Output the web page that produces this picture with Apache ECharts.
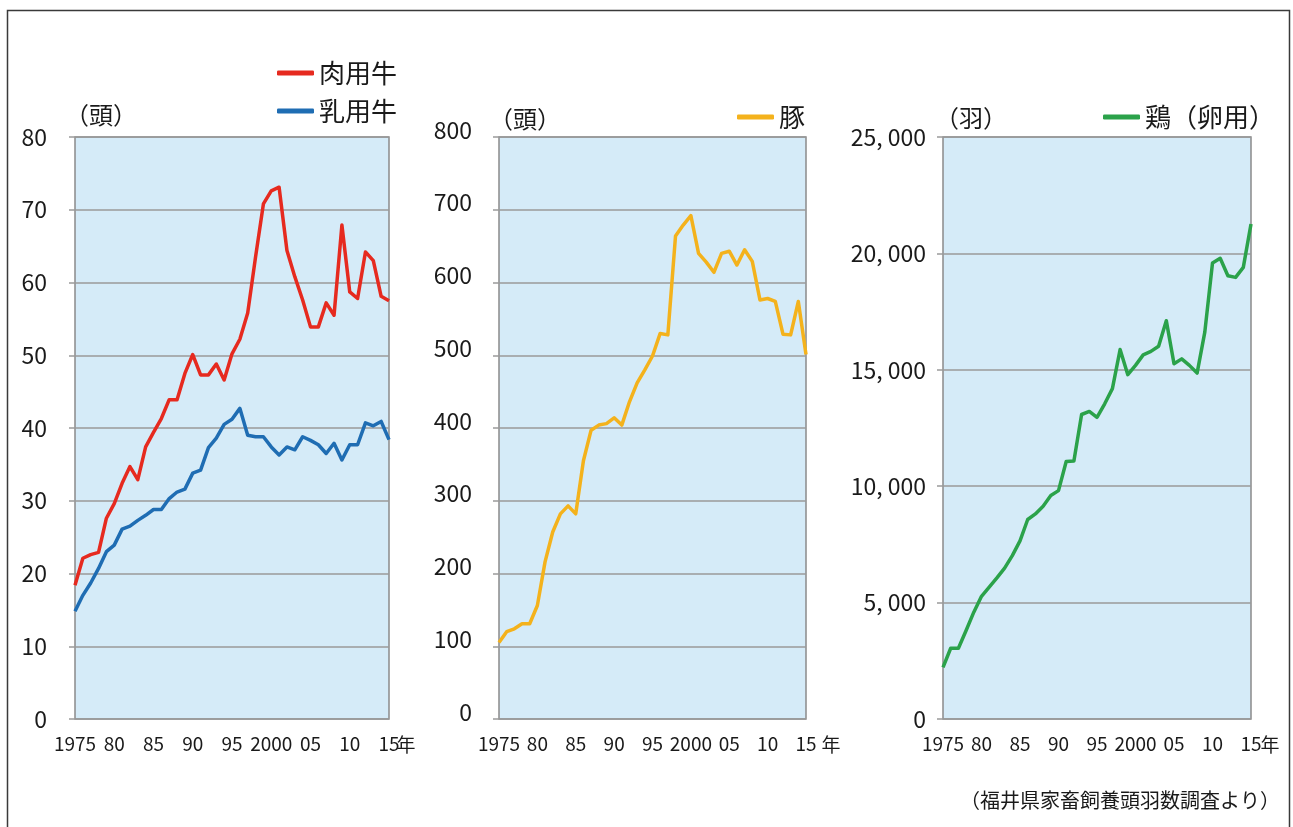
<!DOCTYPE html>
<html>
<head>
<meta charset="utf-8">
<script src="https://cdn.jsdelivr.net/npm/echarts@6/dist/echarts.min.js"></script>
<style>
  html, body { margin: 0; padding: 0; background: #ffffff; }
  #chart { width: 1293px; height: 827px; }
</style>
</head>
<body>
<div id="chart"></div>
<script>
// Survey years
const years = [
  1975, 1976, 1977, 1978, 1979, 1980, 1981, 1982, 1983, 1984,
  1985, 1986, 1987, 1988, 1989, 1990, 1991, 1992, 1993, 1994,
  1995, 1996, 1997, 1998, 1999, 2000, 2001, 2002, 2003, 2004,
  2005, 2006, 2007, 2008, 2009, 2010, 2011, 2012, 2013, 2014,
  2015
];

// 肉用牛 (頭)
const beefCattle = [
  18.4, 22.1, 22.6, 22.9, 27.6, 29.6, 32.4, 34.7, 32.9, 37.4,
  39.4, 41.3, 43.9, 43.9, 47.5, 50.1, 47.3, 47.3, 48.8, 46.6,
  50.2, 52.2, 55.8, 63.5, 70.8, 72.6, 73.1, 64.4, 60.8, 57.6,
  53.9, 53.9, 57.2, 55.5, 67.9, 58.7, 57.8, 64.2, 63.0, 58.1,
  57.5
];

// 乳用牛 (頭)
const dairyCattle = [
  14.8, 17.0, 18.7, 20.7, 23.0, 23.9, 26.1, 26.5, 27.3, 28.0,
  28.8, 28.8, 30.3, 31.2, 31.6, 33.8, 34.2, 37.3, 38.6, 40.5,
  41.2, 42.7, 39.0, 38.8, 38.8, 37.4, 36.3, 37.4, 37.0, 38.8,
  38.3, 37.7, 36.5, 37.9, 35.6, 37.7, 37.7, 40.7, 40.3, 40.9,
  38.4
];

// 豚 (頭)
const pigs = [
  105, 120, 124, 131, 131, 156, 216, 257, 282, 293,
  282, 355, 397, 404, 406, 414, 404, 436, 462, 480,
  499, 530, 528, 664, 679, 692, 640, 628, 614, 640,
  643, 624, 645, 629, 576, 578, 574, 529, 528, 574,
  501
];

// 鶏（卵用） (羽)
const layingHens = [
  2220, 3040, 3040, 3800, 4590, 5270, 5660, 6060, 6480, 7020,
  7650, 8570, 8810, 9140, 9600, 9810, 11060, 11080, 13080, 13210,
  12960, 13540, 14190, 15870, 14790, 15190, 15640, 15790, 16010, 17110,
  15260, 15470, 15190, 14860, 16620, 19590, 19790, 19040, 18970, 19400,
  21260
];

// Year tick labels
const yearTickLabels = {
  1975: '1975', 1980: '80', 1985: '85', 1990: '90', 1995: '95',
  2000: '2000', 2005: '05', 2010: '10', 2015: '15'
};

const seriesNames = ['肉用牛', '乳用牛', '豚', '鶏（卵用）'];
const seriesColors = ['#e62a1f', '#1f6db3', '#f4b21c', '#2ba24a'];

const FONT = '"Noto Sans CJK JP", "Noto Sans", sans-serif';
const TEXT = '#1a1a1a';
const GRIDLINE = '#9a9a9a';

const pairs = (vals) => years.map((y, i) => [y, vals[i]]);

const grids = [
  { left: 75, top: 137, width: 314, height: 582 },
  { left: 499, top: 137, width: 307, height: 582 },
  { left: 943, top: 137, width: 308, height: 582 }
].map(g => Object.assign(g, {
  show: true,
  backgroundColor: '#d5ebf8',
  borderColor: '#8a8a8a',
  borderWidth: 1.5,
  containLabel: false
}));

const xAxes = [0, 1, 2].map(i => ({
  type: 'value',
  gridIndex: i,
  min: 1975,
  max: 2015,
  interval: 5,
  axisLine: { show: false },
  axisTick: { show: false },
  splitLine: { show: false },
  axisLabel: {
    show: true,
    showMinLabel: true,
    showMaxLabel: true,
    margin: 15,
    color: TEXT,
    fontFamily: FONT,
    fontSize: 19,
    formatter: v => yearTickLabels[v] || ''
  }
}));

const yCommon = {
  type: 'value',
  min: 0,
  axisLine: { show: false },
  axisTick: { show: true, length: 6, lineStyle: { color: GRIDLINE, width: 1.5 } },
  splitLine: { show: true, lineStyle: { color: GRIDLINE, width: 1.5 } },
  axisLabel: { color: TEXT, fontFamily: FONT, fontSize: 23 }
};

const yAxes = [
  Object.assign({}, yCommon, { gridIndex: 0, max: 80, interval: 10,
    axisLabel: Object.assign({}, yCommon.axisLabel, { margin: 28 }) }),
  // the 豚 panel's labels sit a little above their gridlines
  Object.assign({}, yCommon, { gridIndex: 1, max: 800, interval: 100,
    axisLabel: Object.assign({}, yCommon.axisLabel, { margin: 27, verticalAlign: 'bottom', lineHeight: 14 }) }),
  Object.assign({}, yCommon, { gridIndex: 2, max: 25000, interval: 5000,
    axisLabel: Object.assign({}, yCommon.axisLabel, { margin: 17,
      formatter: v => v === 0 ? '0' : v.toLocaleString('en-US').replace(',', ', ') }) })
];

const seriesData = [beefCattle, dairyCattle, pigs, layingHens];
const seriesGrid = [0, 0, 1, 2];

const series = seriesData.map((vals, i) => ({
  name: seriesNames[i],
  type: 'line',
  xAxisIndex: seriesGrid[i],
  yAxisIndex: seriesGrid[i],
  data: pairs(vals),
  symbol: 'none',
  smooth: false,
  color: seriesColors[i],
  lineStyle: { width: 3.5, color: seriesColors[i], join: 'round' },
  z: 3
}));

const legendBase = {
  icon: 'roundRect',
  itemWidth: 37,
  itemHeight: 5,
  orient: 'vertical',
  padding: 0,
  itemGap: 12,
  textStyle: { color: TEXT, fontFamily: FONT, fontSize: 26 }
};

const legends = [
  Object.assign({}, legendBase, { data: ['肉用牛', '乳用牛'], left: 277, top: 60 }),
  Object.assign({}, legendBase, { data: ['豚'], left: 737, top: 104 }),
  Object.assign({}, legendBase, { data: ['鶏（卵用）'], left: 1103, top: 104 })
];

const labelText = (text, x, y, size, align) => ({
  type: 'text',
  x: x, y: y,
  style: {
    text: text,
    fill: TEXT,
    font: size + 'px ' + FONT,
    textAlign: align || 'left',
    textVerticalAlign: 'middle'
  },
  silent: true
});

const graphics = [
  {
    type: 'rect',
    shape: { x: 7.5, y: 10.5, width: 1282, height: 840 },
    style: { fill: 'none', stroke: '#3a3a3a', lineWidth: 1.5 },
    silent: true, z: -1
  },
  labelText('（頭）', 101, 115, 24, 'center'),
  labelText('（頭）', 525, 119, 24, 'center'),
  labelText('（羽）', 971, 118, 24, 'center'),
  labelText('年', 406, 745, 19, 'center'),
  labelText('年', 831, 745, 19, 'center'),
  labelText('年', 1270, 745, 19, 'center'),
  labelText('（福井県家畜飼養頭羽数調査より）', 1280, 800, 20, 'right')
];

const chart = echarts.init(document.getElementById('chart'), null, { renderer: 'canvas' });
chart.setOption({
  animation: false,
  backgroundColor: '#ffffff',
  textStyle: { fontFamily: FONT },
  grid: grids,
  xAxis: xAxes,
  yAxis: yAxes,
  legend: legends,
  series: series,
  graphic: graphics
});
</script>
</body>
</html>
